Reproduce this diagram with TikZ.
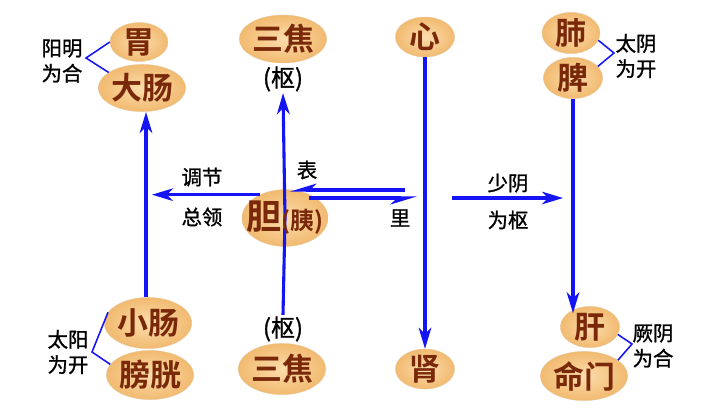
\documentclass[tikz,border=0pt]{standalone}
\usepackage{fontspec}
\setmainfont{Noto Sans CJK SC}[BoldFont={Noto Sans CJK SC Bold}]
\newfontfamily\tagfont{Noto Sans CJK SC}[FakeBold=1.2]
\usepackage{tikz}
\usetikzlibrary{shapes.geometric,arrows.meta}
\definecolor{organfill}{RGB}{252,220,172}
\definecolor{organedge}{RGB}{241,186,112}
\definecolor{organtext}{RGB}{122,40,10}
\definecolor{linkblue}{RGB}{20,20,245}
\tikzstyle{organ} = [ellipse, inner sep=0pt, inner color=organfill, outer color=organedge, draw=organedge!90!black!60, line width=0.3pt, text=organtext, font=\bfseries\fontsize{22}{26}\selectfont]
\tikzstyle{organword} = [inner sep=0pt, text=organtext, font=\bfseries\fontsize{22}{26}\selectfont]
\tikzstyle{shu} = [inner sep=1pt, font=\tagfont\fontsize{17}{20}\selectfont]
\tikzstyle{tag} = [align=center, inner sep=0pt, font=\tagfont\fontsize{14.5}{18}\selectfont]
\tikzstyle{plain} = [draw, linkblue, line width=2.2pt]
\tikzstyle{line} = [plain, -{Stealth[length=15pt,width=9pt,inset=4.5pt]}]
\tikzstyle{half} = [plain, -{Stealth[length=15pt,width=9pt,inset=4.5pt,harpoon,swap]}]
\tikzstyle{brace} = [draw, linkblue, line width=1.1pt]

\begin{document}
\begin{tikzpicture} [x=0.025cm, y=-0.025cm]
\useasboundingbox (0,0) rectangle (720,417);
% Place nodes
\node [organ, minimum width=1.45cm, minimum height=0.95cm] (wei) at (139,42) {胃};
\node [organ, minimum width=1.85cm, minimum height=1.18cm] (dachang) at (142,88) {大肠};
\node [organ, minimum width=1.83cm, minimum height=1.2cm] (sanjiao1) at (283,39) {三焦};
\node [shu] (shu1) at (283,79) {(枢)};
\node [organ, minimum width=1.48cm, minimum height=1cm] (xin) at (425,37) {心};
\node [organ, minimum width=1.45cm, minimum height=1.03cm] (fei) at (571,33) {肺};
\node [organ, minimum width=1.48cm, minimum height=0.98cm] (pi) at (573,78) {脾};
\node [organ, minimum width=2.15cm, minimum height=1.42cm] (dan) at (285,218) {};
\node [organ, minimum width=1.83cm, minimum height=1.28cm] (xiaochang) at (148,323) {小肠};
\node [organ, minimum width=1.85cm, minimum height=1.23cm] (pangguang) at (150,375) {膀胱};
\node [shu] (shu2) at (283,329) {(枢)};
\node [organ, minimum width=1.88cm, minimum height=1.28cm] (sanjiao2) at (282,369) {三焦};
\node [organ, minimum width=1.48cm, minimum height=1cm] (shen) at (425,369) {肾};
\node [organ, minimum width=1.48cm, minimum height=1.03cm] (gan) at (590,327) {肝};
\node [organ, minimum width=1.88cm, minimum height=1.23cm] (mingmen) at (584,376) {命门};
% Labels
\node [tag] (yangming) at (62,61) {阳明\\为合};
\node [tag] (taiyin) at (636,56) {太阴\\为开};
\node [tag] (taiyang) at (68,352) {太阳\\为开};
\node [tag] (jueyin) at (653,346) {厥阴\\为合};
\node [tag] (tiaojie) at (202,177) {调节};
\node [tag] (zongling) at (202,217) {总领};
\node [tag] (biao) at (307,170) {表};
\node [tag] (li) at (400,218) {里};
\node [tag] (shaoyin) at (508,183) {少阴};
\node [tag] (weishu) at (508,220) {为枢};
% Free ends
\coordinate (ltip) at (152,195);
\coordinate (bstart) at (405,190);
\coordinate (lend) at (417,198);
\coordinate (sstart) at (452,198);
\coordinate (send) at (563,198);
\coordinate (ymv) at (86,58);
\coordinate (tyv) at (614,53);
\coordinate (tyangv) at (92,352);
\coordinate (jyv) at (632,344);
% Draw edges
\path [line] (xiaochang.north -| 146,0) -- (146,112);
\path [line] (dan.center) -- (shu1.south);
\path [plain] (dan.center) -- (shu2.north);
\path [line] (dan.137) -- (dan.137 -| ltip);
\path [half] (bstart) -- (bstart -| dan.80);
\path [half] (dan.45 |- lend) -- (lend);
\path [line] (xin.south) -- (shen.north);
\path [line] (sstart) -- (send);
\path [line, shorten >=-5pt] (pi.south) -- (pi.south |- gan.north);
\path [brace] (wei.west) -- (ymv) -- (dachang.155);
\path [brace] (fei.-15) -- (tyv) -- (pi.25);
\path [brace] (xiaochang.165) -- (tyangv) -- (pangguang.165);
\path [brace] (gan.-15) -- (jyv) -- (mingmen.25);
\node [organword] (danlabel) at (dan) {\fontsize{25}{28}\selectfont 胆\fontsize{17}{20}\selectfont(胰)};

\end{tikzpicture}
\end{document}
